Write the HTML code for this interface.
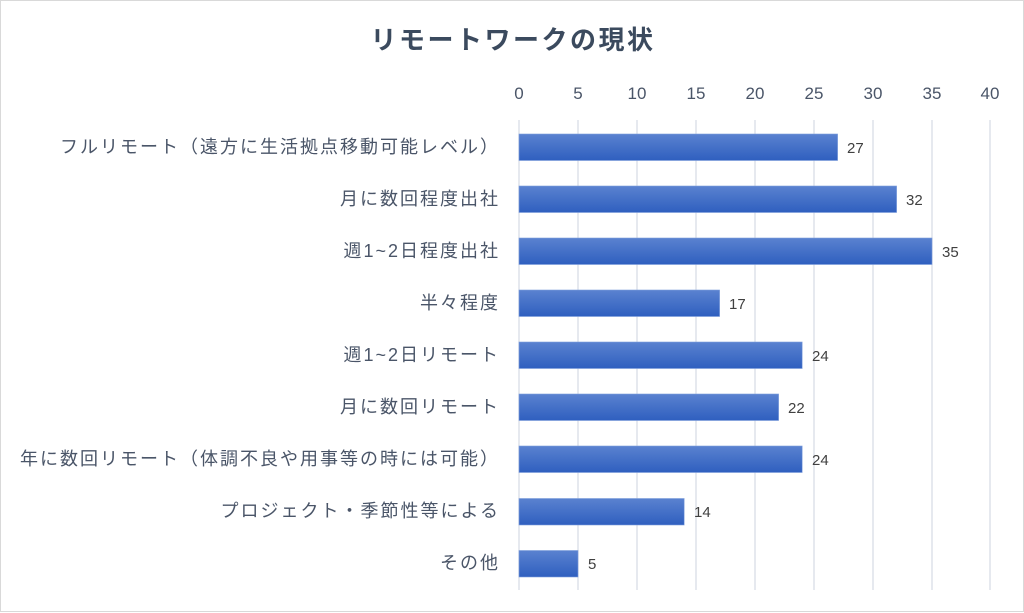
<!DOCTYPE html>
<html><head><meta charset="utf-8"><style>
html,body{margin:0;padding:0;background:#fff;}
svg{display:block;}
text{font-family:"Liberation Sans","Noto Sans CJK JP",sans-serif;}
</style></head><body>
<svg width="1024" height="613" viewBox="0 0 1024 613" xmlns="http://www.w3.org/2000/svg">
<defs>
<linearGradient id="g" x1="0" y1="0" x2="0" y2="1">
<stop offset="0" stop-color="#5a82d0"/><stop offset="1" stop-color="#2f5fbf"/>
</linearGradient>
</defs>
<rect x="0.5" y="0.5" width="1023" height="611" fill="#fff" stroke="#d9d9d9"/>
<text x="513" y="49" text-anchor="middle" font-size="26" font-weight="bold" fill="#3b4a5e" letter-spacing="2.5">リモートワークの現状</text>
<g stroke="#d9dde6" stroke-width="1.3">
<line x1="519" y1="120" x2="519" y2="590"/><line x1="578" y1="120" x2="578" y2="590"/><line x1="637" y1="120" x2="637" y2="590"/><line x1="696" y1="120" x2="696" y2="590"/><line x1="755" y1="120" x2="755" y2="590"/><line x1="814" y1="120" x2="814" y2="590"/><line x1="873" y1="120" x2="873" y2="590"/><line x1="932" y1="120" x2="932" y2="590"/><line x1="990" y1="120" x2="990" y2="590"/>
</g>
<g font-size="17" fill="#4a5568" text-anchor="middle">
<text x="519" y="99">0</text><text x="578" y="99">5</text><text x="637" y="99">10</text><text x="696" y="99">15</text><text x="755" y="99">20</text><text x="814" y="99">25</text><text x="873" y="99">30</text><text x="932" y="99">35</text><text x="990" y="99">40</text>
</g>
<g fill="url(#g)" stroke="#7f9fdc" stroke-width="0.6">
<rect x="519" y="134" width="318.6" height="26.5"/>
<rect x="519" y="186" width="377.6" height="26.5"/>
<rect x="519" y="238" width="413" height="26.5"/>
<rect x="519" y="290" width="200.6" height="26.5"/>
<rect x="519" y="342" width="283.2" height="26.5"/>
<rect x="519" y="394" width="259.6" height="26.5"/>
<rect x="519" y="446" width="283.2" height="26.5"/>
<rect x="519" y="498.5" width="165.2" height="26.5"/>
<rect x="519" y="550.5" width="59" height="26.5"/>
</g>
<g font-size="15" fill="#404040">
<text x="847" y="153">27</text><text x="906" y="205">32</text><text x="942" y="257">35</text><text x="729" y="309">17</text><text x="812" y="361">24</text><text x="788" y="413">22</text><text x="812" y="465">24</text><text x="694" y="517">14</text><text x="588" y="569">5</text>
</g>
<g font-size="18" fill="#4a5568" text-anchor="end" letter-spacing="2">
<text x="500" y="153">フルリモート（遠方に生活拠点移動可能レベル）</text>
<text x="500" y="205">月に数回程度出社</text>
<text x="500" y="257">週1~2日程度出社</text>
<text x="500" y="309">半々程度</text>
<text x="500" y="361">週1~2日リモート</text>
<text x="500" y="413">月に数回リモート</text>
<text x="500" y="465">年に数回リモート（体調不良や用事等の時には可能）</text>
<text x="500" y="517">プロジェクト・季節性等による</text>
<text x="500" y="569">その他</text>
</g>
</svg>
</body></html>
